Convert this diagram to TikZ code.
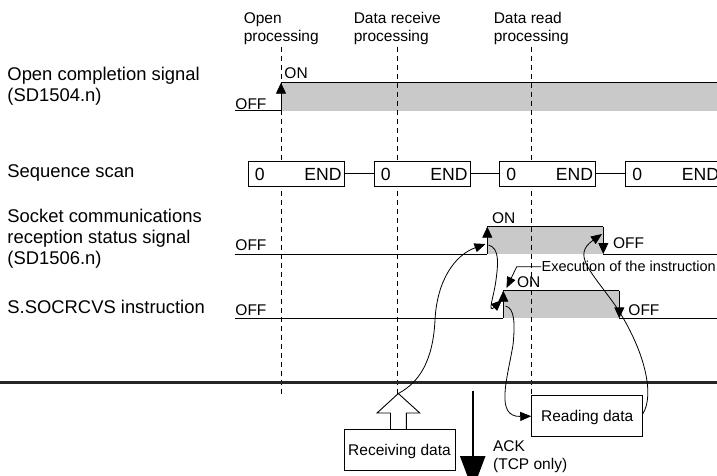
\documentclass[tikz,border=0pt]{standalone}
\usepackage{fontspec}
\setmainfont{Liberation Sans}
\usetikzlibrary{arrows.meta,calc}
\definecolor{siggray}{RGB}{201,201,201}
\newcommand\lblfont{\fontsize{18.4pt}{21.3pt}\selectfont}
\newcommand\smfont{\fontsize{15.5pt}{17.6pt}\selectfont}
\newcommand\exfont{\fontsize{14.5pt}{17pt}\selectfont}
\newcommand\boxfont{\fontsize{17.6pt}{20pt}\selectfont}
\begin{document}
\begin{tikzpicture}[x=1pt,y=-1pt,line width=0.9pt,
  tipup/.style={-{Triangle[length=11pt,width=10pt]}},
  cur/.style={line width=0.8pt,-{Triangle[length=11pt,width=9pt]}},
  guide/.style={line width=0.8pt,dash pattern=on 5pt off 4pt},
  scanbox/.style={draw,fill=white,minimum width=95.7pt,minimum height=25pt,inner sep=0pt},
  databox/.style={draw,fill=white,minimum width=111pt,minimum height=41pt,inner sep=0pt,font=\smfont,text height=11.3pt,text depth=0pt},
  lbl/.style={anchor=base west,inner sep=0pt,font=\lblfont,align=left},
  sm/.style={anchor=base west,inner sep=0pt,font=\smfont,align=left},
  bx/.style={inner sep=0pt,font=\boxfont},
]
\useasboundingbox (0,0) rectangle (717,475);
\clip (0,0) rectangle (717,475);

% ---------- coordinates of signal edges ----------
\coordinate (oOff) at (235,110.7);
\coordinate (oRB) at (281,110.7);
\coordinate (oRT) at (281,82.7);
\coordinate (oEnd) at (720,82.7);

\coordinate (sOff) at (235,254);
\coordinate (sRB) at (487.3,254);
\coordinate (sRT) at (487.3,226.7);
\coordinate (sFT) at (603.3,226.7);
\coordinate (sFB) at (603.3,254);
\coordinate (sEnd) at (720,254);

\coordinate (iOff) at (235,318.3);
\coordinate (iRB) at (503.3,318.3);
\coordinate (iRT) at (503.3,290.7);
\coordinate (iFT) at (619.3,290.7);
\coordinate (iFB) at (619.3,318.3);
\coordinate (iEnd) at (720,318.3);

% ---------- gray ON areas ----------
\fill[siggray] (oRT) rectangle (oEnd |- oRB);
\fill[siggray] (sRT) rectangle (sFB);
\fill[siggray] (iRT) rectangle (iFB);

% ---------- signal lines ----------
\draw (oOff) -- (oRB);
\draw (oRT) -- (oEnd);
\draw (sOff) -- (sRB);
\draw (sRT) -- (sFT);
\draw (sFB) -- (sEnd);
\draw (iOff) -- (iRB);
\draw (iRT) -- (iFT);
\draw (iFB) -- (iEnd);

% ---------- dashed guide lines ----------
\coordinate (g1t) at (281,46.7);   \coordinate (g1b) at (281,396);
\coordinate (g2t) at (397.6,46.7); \coordinate (g2b) at (397.6,393.5);
\coordinate (g3t) at (531.7,46.7); \coordinate (g3b) at (531.7,395.7);
\draw[guide] (g1t) -- (g1b);
\draw[guide] (g2t) -- (g2b);
\draw[guide] (g3t) -- (g3b);

% ---------- edge arrows ----------
\draw[tipup] (oRB) -- (oRT);
\draw[tipup] (sRB) -- (sRT);
\draw[tipup] (sFT) -- (sFB);
\draw[tipup] (iRB) -- (iRT);
\draw[tipup] (iFT) -- (iFB);

% ---------- sequence scan ----------
\node[scanbox] (s1) at (296.2,173.5) {};
\node[scanbox] (s2) at (422.2,173.5) {};
\node[scanbox] (s3) at (547.6,173.5) {};
\node[scanbox] (s4) at (673.6,173.5) {};
\draw (s1.east) -- (s2.west);
\draw (s2.east) -- (s3.west);
\draw (s3.east) -- (s4.west);
\foreach \s in {s1,s2,s3,s4}{
  \node[bx,anchor=base west] at ($(\s.west)+(6.5,7.3)$) {0};
  \node[bx,anchor=base east] at ($(\s.east)+(-2.4,7.3)$) {END};
}

% ---------- thick line ----------
\coordinate (thL) at (0,382.5);
\coordinate (thR) at (717,382.5);
\draw[line width=2.3pt,black!85] (thL) -- (thR);

% ---------- bottom boxes ----------
\node[databox] (recv) at (399.5,450) {Receiving data};
\node[databox] (read) at (587.2,416.2) {Reading data};

% hollow arrow
\coordinate (rtip) at (398.3,393.5);
\draw[fill=white] (rtip) -- (419.8,413) -- (406.3,413) -- (406.3,429.5)
   -- (390.5,429.5) -- (390.5,413) -- (377,413) -- cycle;

% ACK arrow
\coordinate (ackT) at (472.7,391);
\coordinate (ackB) at (472.7,490);
\draw[line width=2.4pt,-{Triangle[length=34pt,width=25pt]}] (ackT) -- (ackB);
\node[sm] (ack) at (492.7,469.3) {ACK\\(TCP only)};

% ---------- causal curves ----------
\coordinate (aA) at (485.5,244);
\coordinate (bS) at (488.5,245);
\coordinate (bE) at (502,300);
\coordinate (cS) at (505.5,306);
\coordinate (dS) at (642.7,414);
\coordinate (dE) at (602,234);
\draw[cur] (rtip) .. controls (420,382) and (433,360) .. (435,320)
  .. controls (437,280) and (455,255) .. (aA);
\draw[cur] (bS) .. controls (500,248) and (498,265) .. (496,280)
  .. controls (494,296) and (487,314) .. (bE);
\draw[cur] (cS) .. controls (515,308) and (515,325) .. (513,345)
  .. controls (507,380) and (495,417) .. (read.west);
\draw[cur] (dS) .. controls (655,395) and (645,350) .. (615,305)
  .. controls (590,270) and (572,255) .. (dE);

% execution leader
\node[sm,font=\exfont] (exec) at (541.2,271.3) {Execution of the instruction};
\coordinate (exB) at (516.7,266.7);
\coordinate (exTip) at (506.5,288);
\draw[cur] (exec.west |- exB) -- (exB) -- (exTip);

% ---------- texts ----------
\node[sm] (hOpen) at (243.3,41) {Open\\processing};
\node[sm] (hRecv) at (353.3,41) {Data receive\\processing};
\node[sm] (hRead) at (493.3,41) {Data read\\processing};

\node[lbl] (l1) at (7,101.8) {Open completion signal\\(SD1504.n)};
\node[lbl] (l2) at (7,177.5) {Sequence scan};
\node[lbl] (l3) at (7,264.6) {Socket communications\\reception status signal\\(SD1506.n)};
\node[lbl] (l4) at (7,313.5) {S.SOCRCVS instruction};

\node[sm] (off1) at (235,109.3) {OFF};
\node[sm] (on1) at (284,78.5) {ON};
\node[sm] (off2) at (235,250) {OFF};
\node[sm] (on2) at (491.7,223.5) {ON};
\node[sm] (off2r) at (612.7,248.5) {OFF};
\node[sm] (off3) at (235,315.3) {OFF};
\node[sm] (on3) at (516.7,287.3) {ON};
\node[sm] (off3r) at (628,315) {OFF};
\end{tikzpicture}
\end{document}
